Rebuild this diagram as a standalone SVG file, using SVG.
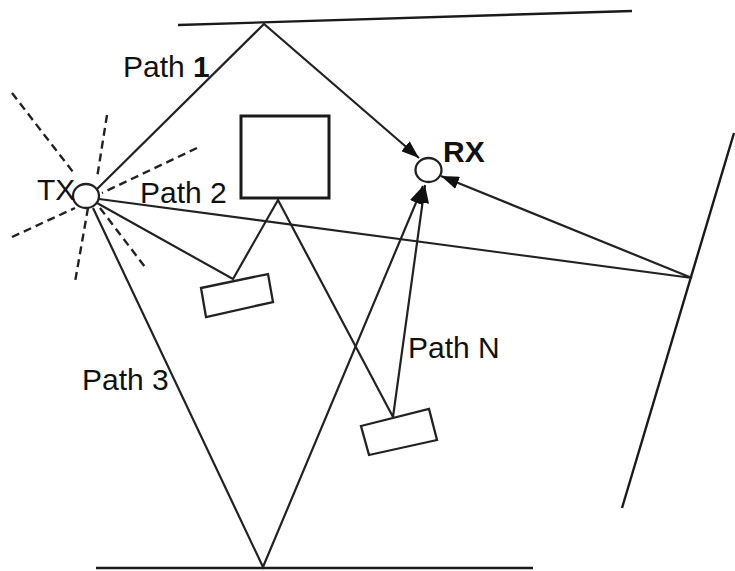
<svg xmlns="http://www.w3.org/2000/svg" width="735" height="571" viewBox="0 0 735 571">
<style>
.w{stroke:#1a1a1a;stroke-width:2.4;fill:none}
.c{stroke:#222;stroke-width:2.2;fill:none}
.d{stroke:#222;stroke-width:2.4;fill:none;stroke-dasharray:8 5}
.o{stroke:#222;stroke-width:2.3;fill:#fff}
.t{font-family:"Liberation Sans",Arial,sans-serif;font-size:30px;fill:#111}
</style>
<defs>
<marker id="ah" viewBox="0 0 18 13" refX="18" refY="6.5" markerWidth="18" markerHeight="13" markerUnits="userSpaceOnUse" orient="auto">
<path d="M0,0 L18,6.5 L0,13 Z" fill="#111"/>
</marker>
</defs>
<g id="walls">
<line class="w" x1="178" y1="25" x2="632" y2="11"/>
<line class="w" x1="96" y1="568" x2="533" y2="568"/>
<line class="w" x1="734" y1="133" x2="622" y2="508"/>
</g>
<g id="connectors">
<polyline class="c" points="96,190 264,24 419,158" marker-end="url(#ah)"/>
<polyline class="c" points="97,203 233,279 278,200 393,417 425,185" marker-end="url(#ah)"/>
<polyline class="c" points="93,208 263,567 423,186" marker-end="url(#ah)"/>
<polyline class="c" points="99,199 692,278 441,176" marker-end="url(#ah)"/>
</g>
<g id="rays">
<line class="d" x1="12" y1="93" x2="73" y2="172"/>
<line class="d" x1="107" y1="115" x2="97" y2="178"/>
<line class="d" x1="197" y1="148" x2="102" y2="193"/>
<line class="d" x1="12" y1="237" x2="75" y2="208"/>
<line class="d" x1="88" y1="208" x2="75" y2="282"/>
<line class="d" x1="100" y1="208" x2="145" y2="267"/>
</g>
<g id="obstacle">
<rect x="241" y="116" width="88" height="82" fill="#fff" stroke="#1a1a1a" stroke-width="3"/>
</g>
<g id="scatterer1">
<polygon class="o" points="201,288 268,274 273,302 206,317"/>
</g>
<g id="scatterer2">
<polygon class="o" points="361,426 429,409 437,440 369,455"/>
</g>
<g id="tx">
<ellipse class="o" cx="86" cy="196" rx="13" ry="12"/>
<text class="t" x="37" y="200">TX</text>
</g>
<g id="rx">
<ellipse class="o" cx="428.5" cy="170" rx="13" ry="12"/>
<text class="t" x="443" y="162" font-weight="bold">RX</text>
</g>
<g id="labels">
<text class="t" x="123" y="77">Path <tspan font-weight="bold">1</tspan></text>
<text class="t" x="140" y="203">Path 2</text>
<text class="t" x="408" y="358">Path N</text>
<text class="t" x="82" y="390">Path 3</text>
</g>
</svg>
